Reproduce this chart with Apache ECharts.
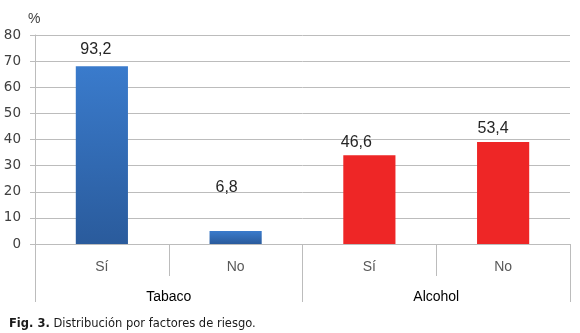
<!DOCTYPE html>
<html>
<head>
<meta charset="utf-8">
<script src="https://cdn.jsdelivr.net/npm/echarts@6/dist/echarts.min.js"></script>
<style>
  html, body { margin: 0; padding: 0; background: #fff; }
  #chart { width: 580px; height: 333px; }
</style>
</head>
<body>
<div id="chart"></div>
<script>
// Answers (Sí / No) inside each risk factor
const categories = ['Sí', 'No', 'Sí', 'No'];
// Risk factors, each spanning two answers
const groups = ['Tabaco', 'Alcohol'];
// Number of people per answer
const counts = [68, 5, 34, 39];
// Y axis ticks
const yTicks = [0, 10, 20, 30, 40, 50, 60, 70, 80];

// Share of each answer within its risk factor, written with a decimal comma
function shareLabel(idx) {
  const g = Math.floor(idx / 2);
  const total = counts[g * 2] + counts[g * 2 + 1];
  return (counts[idx] / total * 100).toFixed(1).replace('.', ',');
}

const blue = new echarts.graphic.LinearGradient(0, 0, 0, 1, [
  { offset: 0, color: '#3a7bcc' },
  { offset: 1, color: '#2a5b9c' }
]);
const red = '#ee2626';
const barColors = [blue, blue, red, red];
// Hand-placed value labels
const labelOffsets = [[-6, -4], [-9, -30], [-13, 0], [-10, -1]];

const gridColor = '#bcbcbc';
const font = 'Liberation Sans, Arial, sans-serif';
const numFont = 'DejaVu Sans, Verdana, sans-serif';

const chart = echarts.init(document.getElementById('chart'), null, { renderer: 'canvas' });
chart.setOption({
  animation: false,
  textStyle: { fontFamily: font },
  grid: { left: 35, right: 10, top: 35, bottom: 89, containLabel: false },
  title: {
    left: 4, top: 313,
    text: '{b|Fig. 3.} Distribución por factores de riesgo.',
    textStyle: {
      fontFamily: numFont,
      fontSize: 11.5, fontWeight: 'normal', color: '#1a1a1a',
      rich: { b: { fontFamily: numFont, fontSize: 11.5, fontWeight: 'bold', color: '#1a1a1a' } }
    }
  },
  graphic: [{
    type: 'text', left: 28, top: 12,
    style: { text: '%', font: '14px ' + font, fill: '#404040' }
  }],
  xAxis: [{
    type: 'category',
    data: categories,
    position: 'bottom',
    axisLine: { show: true, lineStyle: { color: gridColor } },
    axisTick: { show: true, interval: 0, length: 32, lineStyle: { color: gridColor } },
    axisLabel: { interval: 0, margin: 16, fontSize: 14, color: '#595959' },
    splitLine: { show: false }
  }, {
    type: 'category',
    data: groups,
    position: 'bottom',
    axisLine: { show: false },
    axisTick: { show: true, interval: 0, length: 58, lineStyle: { color: gridColor } },
    axisLabel: { interval: 0, margin: 46, fontSize: 14, color: '#000' },
    splitLine: { show: false }
  }],
  yAxis: {
    type: 'value',
    min: yTicks[0], max: yTicks[yTicks.length - 1], interval: 10,
    axisLine: { show: true, lineStyle: { color: gridColor } },
    axisTick: { show: true, length: 5, lineStyle: { color: gridColor } },
    axisLabel: { margin: 14, fontSize: 13.5, fontFamily: numFont, color: '#404040' },
    splitLine: { show: true, lineStyle: { color: gridColor } }
  },
  series: [{
    type: 'bar',
    xAxisIndex: 0,
    barWidth: '39%',
    data: counts.map((v, i) => ({
      value: v,
      itemStyle: { color: barColors[i] },
      label: { offset: labelOffsets[i] }
    })),
    label: {
      show: true, position: 'top', distance: 5,
      fontSize: 16, color: '#262626',
      formatter: p => shareLabel(p.dataIndex)
    }
  }]
});
</script>
</body>
</html>
